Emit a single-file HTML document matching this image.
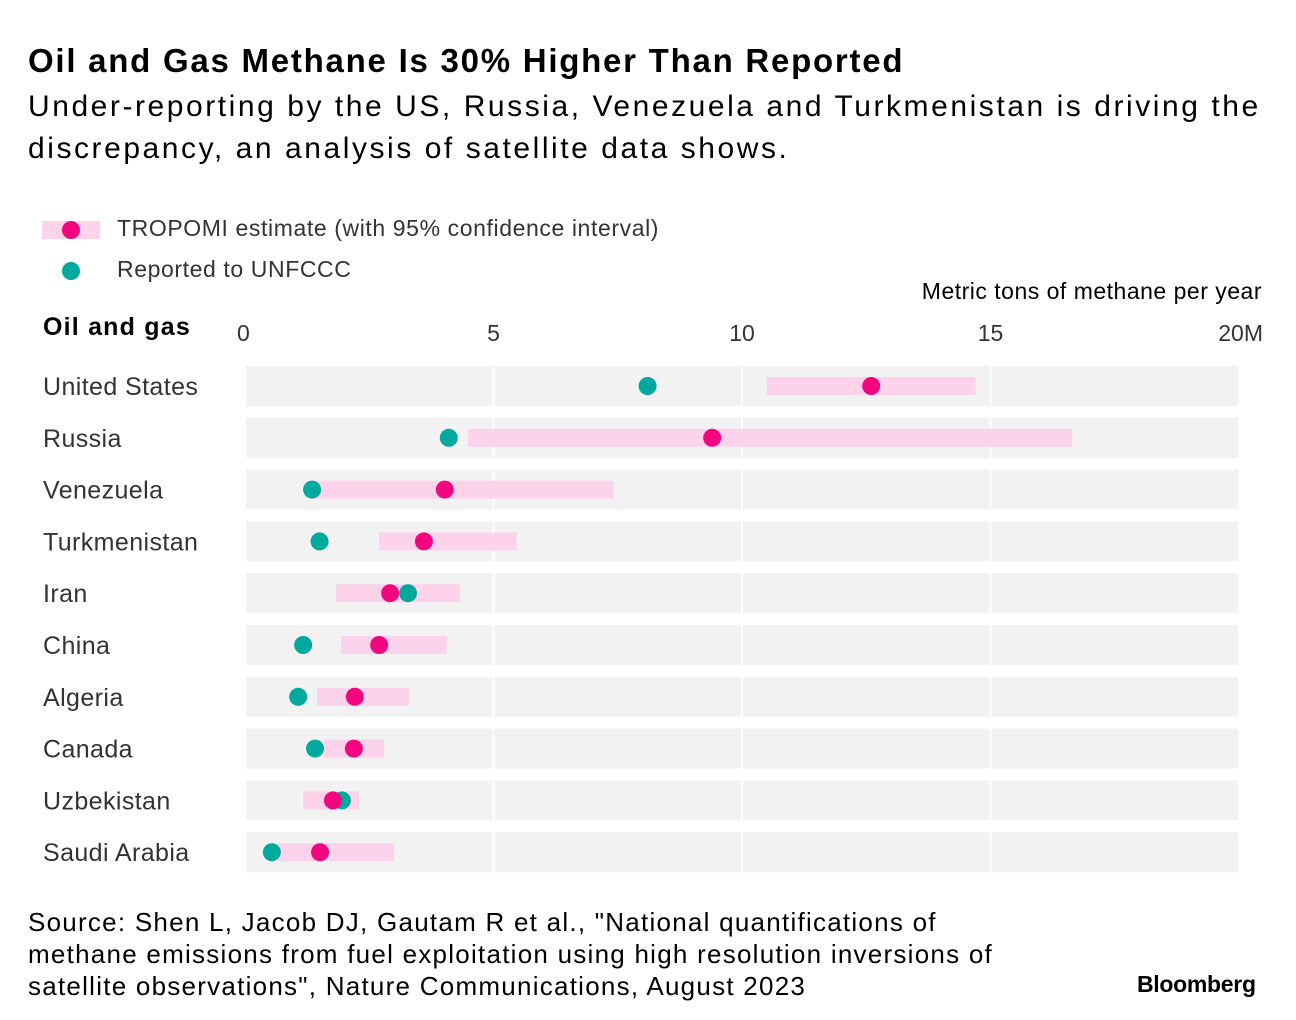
<!DOCTYPE html>
<html><head><meta charset="utf-8"><style>
body{margin:0;background:#fff;font-family:"Liberation Sans",Arial,sans-serif;color:#000;}
#wrap{position:relative;width:1296px;height:1020px;overflow:hidden}
.t{position:absolute;white-space:nowrap}
</style></head><body><div id="wrap">
<div class="t" style="left:28px;top:42px;font-size:33px;font-weight:bold;letter-spacing:1.75px">Oil and Gas Methane Is 30% Higher Than Reported</div>
<div class="t" style="left:28px;top:86px;font-size:30px;line-height:42px;letter-spacing:2.55px">Under-reporting by the US, Russia, Venezuela and Turkmenistan is driving the<br>discrepancy, an analysis of satellite data shows.</div>
<div>
<div style="position:absolute;left:42px;top:221px;width:58px;height:18px;background:#fcd3ea"></div>
<div style="position:absolute;left:62px;top:221px;width:18px;height:18px;border-radius:50%;background:#f2067f"></div>
<div class="t" style="left:117px;top:215px;font-size:23px;color:#333;letter-spacing:0.6px">TROPOMI estimate (with 95% confidence interval)</div></div>
<div>
<div style="position:absolute;left:62px;top:262px;width:18px;height:18px;border-radius:50%;background:#00a99d"></div>
<div class="t" style="left:117px;top:256px;font-size:23px;color:#333;letter-spacing:0.6px">Reported to UNFCCC</div></div>
<div class="t" style="right:34px;top:278px;font-size:23px;letter-spacing:0.5px">Metric tons of methane per year</div>
<div class="t" style="left:43px;top:313px;font-size:25px;font-weight:bold;letter-spacing:1.2px">Oil and gas</div>
<svg id="plot" width="1296" height="1020" style="position:absolute;left:0;top:0"></svg>
<div class="t" style="left:28px;top:906px;font-size:26px;line-height:32px;letter-spacing:1.25px">Source: Shen L, Jacob DJ, Gautam R et al., "National quantifications of<br>methane emissions from fuel exploitation using high resolution inversions of<br>satellite observations", Nature Communications, August 2023</div>
<div class="t" style="left:1137px;top:971px;font-size:23px;font-weight:bold;letter-spacing:-0.3px">Bloomberg</div>
</div>
<script>
const countries=["United States","Russia","Venezuela","Turkmenistan","Iran","China","Algeria","Canada","Uzbekistan","Saudi Arabia"];
const reported=[8.1,4.1,1.35,1.5,3.28,1.17,1.07,1.41,1.95,0.54];
const tropomi=[12.6,9.4,4.02,3.6,2.92,2.7,2.21,2.19,1.77,1.51];
const ciLow=[10.5,4.49,1.35,2.7,1.83,1.93,1.45,1.59,1.17,0.66];
const ciHigh=[14.7,16.64,7.42,5.47,4.33,4.06,3.3,2.8,2.29,3.0];
const ticks=[0,5,10,15,20];
const tickLabels=["0","5","10","15","20M"];
const NS="http://www.w3.org/2000/svg";
const svg=document.getElementById('plot');
const x0=245,x1=1239,xmax=20;
const X=v=>x0+(x1-x0)*v/xmax;
const Y=i=>386+i*51.8;
function mk(t,a){const e=document.createElementNS(NS,t);for(const k in a)e.setAttribute(k,a[k]);svg.appendChild(e);return e;}
countries.forEach((c,i)=>{
 const r=mk('rect',{x:x0,y:Y(i)-20,width:x1-x0,height:40,fill:'#f2f2f2'});
 
 
 const l=mk('text',{x:43,y:Y(i)+9,'font-size':25,fill:'#333','letter-spacing':0.4});l.textContent=c;
 
 
});
ticks.forEach((t,i)=>{
 const g=mk('line',{x1:X(t),x2:X(t),y1:362,y2:872,stroke:'#fff','stroke-width':2});
 
 
 const anchor=i==0?'start':(i==ticks.length-1?'end':'middle');
 const tx=i==ticks.length-1?X(t)+24:(i==0?X(t)-8:X(t));
 const l=mk('text',{x:tx,y:341,'font-size':23,fill:'#333','text-anchor':anchor});l.textContent=tickLabels[i];
 
 
});
countries.forEach((c,i)=>{
 const b=mk('rect',{x:X(ciLow[i]),y:Y(i)-9,width:X(ciHigh[i])-X(ciLow[i]),height:18,fill:'#fcd3ea'});
 
 
});
countries.forEach((c,i)=>{
 const d1=mk('circle',{cx:X(reported[i]),cy:Y(i),r:9,fill:'#00a99d'});
 
 
 const d2=mk('circle',{cx:X(tropomi[i]),cy:Y(i),r:9,fill:'#f2067f'});
 
 
 if(c==="Uzbekistan") svg.appendChild(d2);
});
</script></body></html>
